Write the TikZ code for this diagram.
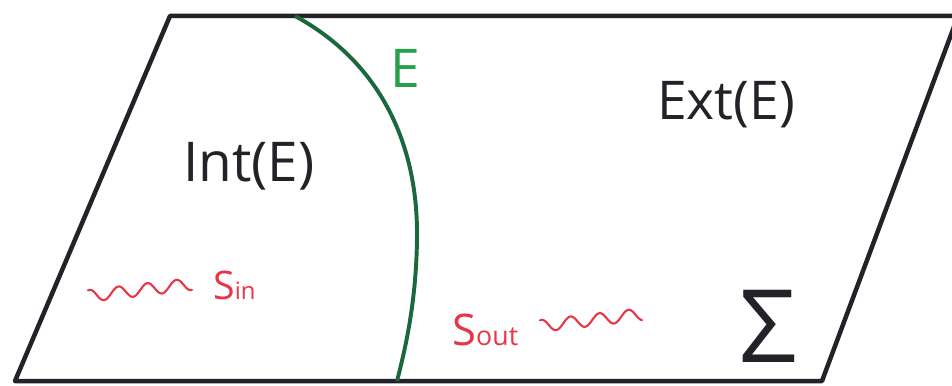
\documentclass[tikz,border=0pt]{standalone}
\usepackage{fontspec}
\setmainfont{Open Sans}
\definecolor{boundgreen}{RGB}{28,104,62}
\definecolor{labgreen}{RGB}{40,160,75}
\definecolor{sigred}{RGB}{230,55,70}
\definecolor{ink}{RGB}{34,34,40}
\begin{document}
\begin{tikzpicture}[x=0.025cm,y=-0.025cm,
 region/.style={anchor=base,inner sep=0pt,text=ink,font=\fontsize{39}{42}\selectfont},
 signal/.style={anchor=base west,inner sep=0pt,text=sigred},
 wave/.style={sigred,line width=1.5pt,line cap=round},
 line join=round]
\useasboundingbox (0,0) rectangle (952,386);
% the surface Sigma
\coordinate (bl) at (15,381);
\coordinate (tl) at (170,16);
\coordinate (tr) at (958,16);
\coordinate (br) at (822,381);
\draw[ink,line width=3.2pt] (bl) -- (tl) -- (tr) -- (br) -- cycle;
% the boundary E
\coordinate (etop) at (295,16);
\coordinate (emid) at (417,233);
\coordinate (ebot) at (397,381);
\draw[boundgreen,line width=2.8pt] (etop) .. controls (385,65) and (417,150) .. (emid)
 .. controls (417,300) and (405,350) .. (ebot);
\node[region,text=labgreen,font=\fontsize{38}{42}\selectfont] (elab) at (405,88) {E};
\node[region] (int) at (249,182) {Int(E)};
\node[region,font=\fontsize{38}{42}\selectfont] (ext) at (726,120) {Ext(E)};
\node[region,font=\fontsize{72}{76}\selectfont] (sigma) at (768,362) {Σ};
% sources
\node[signal] (sin) at (213,300)
 {\fontsize{28}{30}\selectfont S\fontsize{17}{20}\selectfont in};
\node[signal] (sout) at (452,345)
 {\fontsize{31}{34}\selectfont S\fontsize{19}{22}\selectfont out};
\coordinate (win) at (88,296);
\coordinate (wout) at (540,326);
\draw[wave,shift={(win)}] plot[domain=0:104,samples=90,smooth]
 (\x,{-0.115*\x+6*sin(12.414*(\x-16)+90)});
\draw[wave,shift={(wout)}] plot[domain=0:102,samples=90,smooth]
 (\x,{-0.115*\x+6*sin(12.414*(\x-16)+90)});
\end{tikzpicture}
\end{document}
